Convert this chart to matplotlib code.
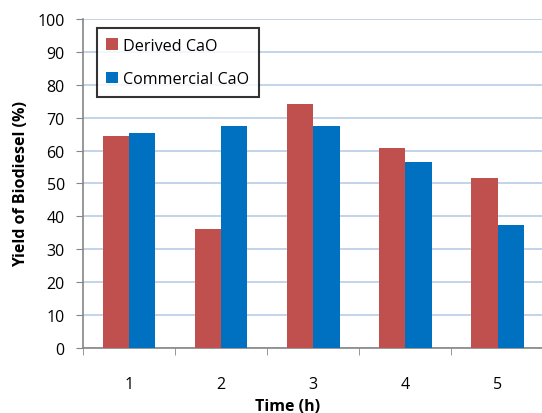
import numpy as np
import matplotlib.pyplot as plt

# Biodiesel yield vs reaction time for the two catalysts
times = ["1", "2", "3", "4", "5"]
derived = [64.3, 36.1, 74.0, 60.7, 51.6]
commercial = [65.2, 67.4, 67.4, 56.4, 37.4]

plt.rcParams["font.family"] = ["Open Sans", "DejaVu Sans"]

fig = plt.figure(figsize=(5.42, 4.14), dpi=100)
ax = fig.add_axes([0.153, 0.157, 0.85, 0.795])

x = np.arange(len(times))
w = 0.286
ax.bar(x - w / 2, derived, w, color="#C0504D", label="Derived CaO", zorder=3)
ax.bar(x + w / 2, commercial, w, color="#0070C0", label="Commercial CaO", zorder=3)

ax.set_xlim(-0.5, len(times) - 0.5)
ax.set_ylim(0, 100)
ax.set_yticks(range(0, 101, 10))
ax.set_xticks(x)
ax.set_xticklabels(times)
ax.set_xticks(np.arange(-0.5, len(times), 1.0), minor=True)

ax.grid(axis="y", color="#B9CDE5", linewidth=1.2, zorder=0)
for s in ["top", "right"]:
    ax.spines[s].set_visible(False)
for s in ["left", "bottom"]:
    ax.spines[s].set_color("#868686")
    ax.spines[s].set_linewidth(1.2)

ax.tick_params(axis="y", length=5, color="#868686", labelsize=11.5, pad=8)
ax.tick_params(axis="x", which="major", length=0, labelsize=11.5, pad=20)
ax.tick_params(axis="x", which="minor", length=5, color="#868686")

ax.set_ylabel("Yield of Biodiesel (%)", fontweight="bold", fontsize=11.5, labelpad=6)
fig.text(288 / 542, 1 - 407 / 414, "Time (h)", fontweight="bold", fontsize=11.5,
         ha="center", va="center")

leg = ax.legend(loc="upper left", bbox_to_anchor=(0.03, 0.972), fontsize=11.6,
                frameon=True, fancybox=False, handlelength=0.7, handleheight=0.7,
                handletextpad=0.35, labelspacing=1.1, borderpad=0.6,
                borderaxespad=0.0)
leg.get_frame().set_edgecolor("black")
leg.get_frame().set_linewidth(1.5)

fig.savefig("out.png", dpi=100)
